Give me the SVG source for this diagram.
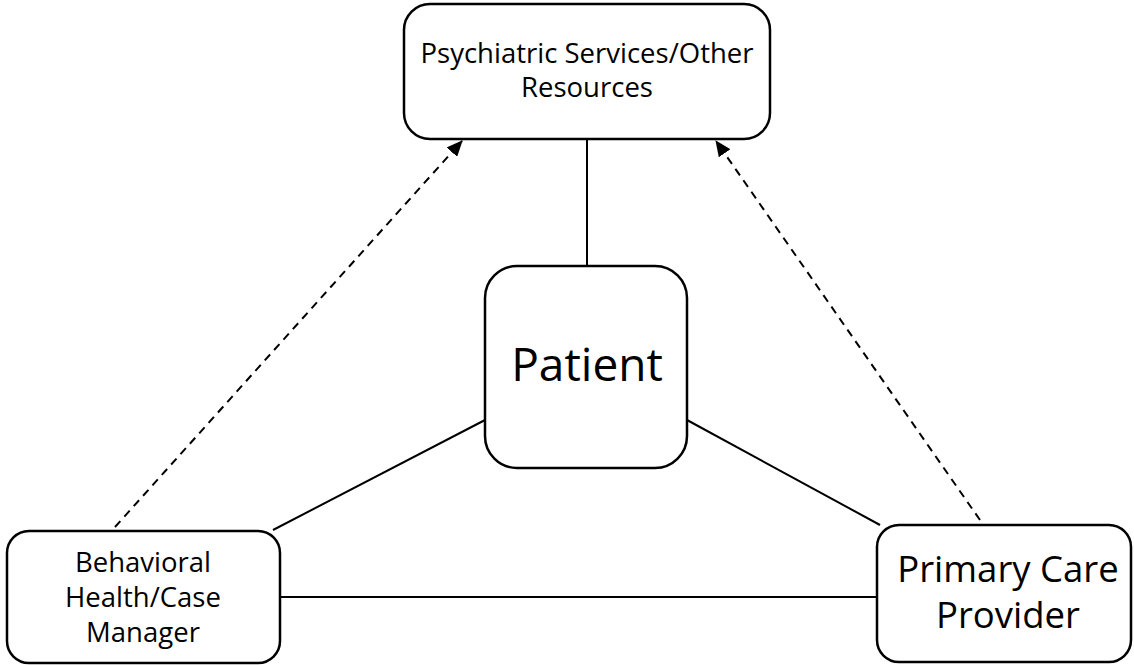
<svg xmlns="http://www.w3.org/2000/svg" width="1134" height="665" viewBox="0 0 1134 665">
<style>
.box{fill:#fff;stroke:#000;stroke-width:2.5}
.t{font-family:"Open Sans","Liberation Sans",sans-serif;fill:#000;text-anchor:middle}
.ln{stroke:#000;stroke-width:2;fill:none}
.ds{stroke:#000;stroke-width:2;fill:none;stroke-dasharray:8,6}
</style>
<defs>
<marker id="ah" markerWidth="16" markerHeight="14" refX="15" refY="7" orient="auto" markerUnits="userSpaceOnUse" viewBox="0 0 16 14">
<path d="M0,0 L16,7 L0,14 z" fill="#000"/>
</marker>
</defs>
<g id="connectors">
<line class="ln" x1="587" y1="139" x2="587" y2="266"/>
<line class="ln" x1="485" y1="420" x2="273" y2="530"/>
<line class="ln" x1="687" y1="420" x2="880" y2="525"/>
<line class="ln" x1="280" y1="597" x2="877" y2="597"/>
<line class="ds" x1="115" y1="527" x2="462" y2="141" marker-end="url(#ah)"/>
<line class="ds" x1="980" y1="520" x2="716" y2="141" marker-end="url(#ah)"/>
</g>
<g id="top">
<rect class="box" x="404" y="4" width="366" height="135" rx="26"/>
<text class="t" x="587" y="63" font-size="27.5">Psychiatric Services/Other</text>
<text class="t" x="587" y="97" font-size="27.5">Resources</text>
</g>
<g id="patient">
<rect class="box" x="485" y="266" width="202" height="202" rx="32"/>
<text class="t" x="587" y="381" font-size="46">Patient</text>
</g>
<g id="bh">
<rect class="box" x="7" y="531" width="273" height="132" rx="22"/>
<text class="t" x="143" y="572" font-size="27.5">Behavioral</text>
<text class="t" x="143" y="607" font-size="27.5">Health/Case</text>
<text class="t" x="143" y="642" font-size="27.5">Manager</text>
</g>
<g id="pcp">
<rect class="box" x="877" y="525" width="254" height="137" rx="22"/>
<text class="t" x="1008" y="582" font-size="36.5">Primary Care</text>
<text class="t" x="1008" y="628" font-size="36.5">Provider</text>
</g>
</svg>
